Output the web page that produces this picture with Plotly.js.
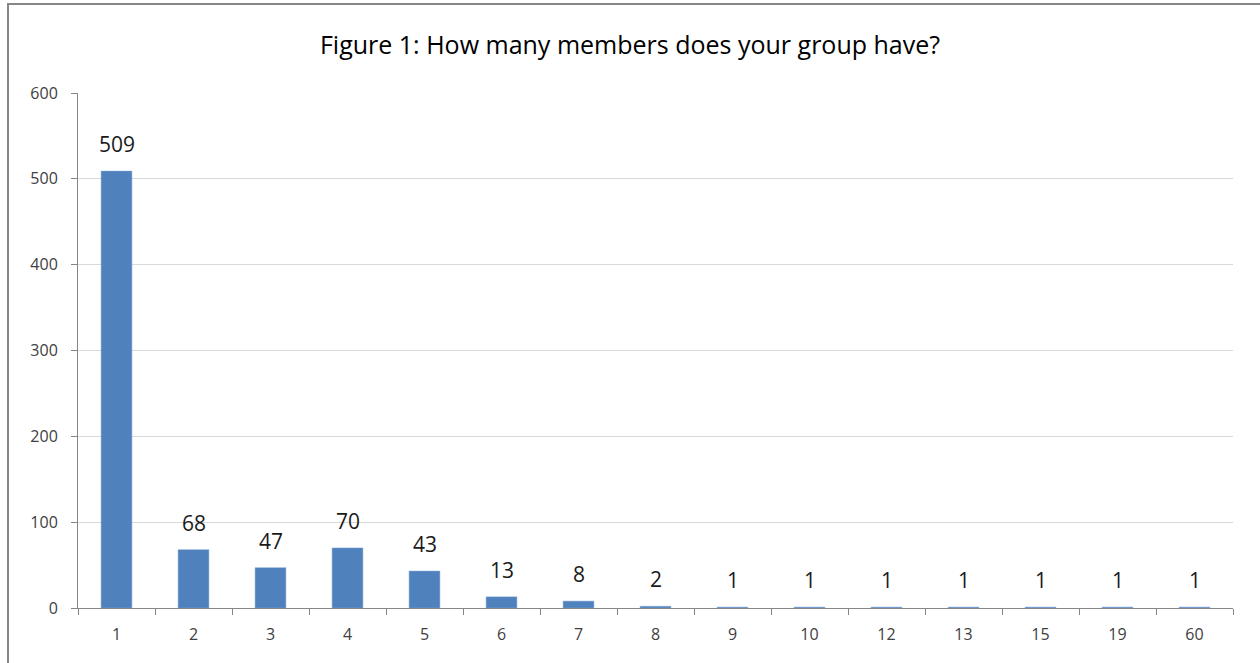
<!DOCTYPE html>
<html>
<head>
<meta charset="utf-8">
<script src="https://cdn.plot.ly/plotly-3.0.1.min.js"></script>
<style>
html,body{margin:0;padding:0;background:#fff;}
#chart{width:1260px;height:663px;}
#frame{position:absolute;left:7px;top:3px;width:1260px;height:670px;border-left:2px solid #878787;border-top:2px solid #878787;pointer-events:none;}
</style>
</head>
<body>
<div id="chart"></div>
<div id="frame"></div>
<script>
const categories = ["1","2","3","4","5","6","7","8","9","10","12","13","15","19","60"];
const counts = [509, 68, 47, 70, 43, 13, 8, 2, 1, 1, 1, 1, 1, 1, 1];
const yTicks = [0, 100, 200, 300, 400, 500, 600];

const FONT = '"Open Sans", "Noto Sans", sans-serif';

const trace = {
  type: 'bar',
  x: categories,
  y: counts,
  marker: {color: '#4f81bd', line: {color: '#7ea5d6', width: 0.5}},
  hoverinfo: 'x+y'
};

// data labels placed on the category index of each bar
const labels = categories.map((c, i) => ({
  x: i, y: counts[i], xref: 'x', yref: 'y',
  text: String(counts[i]), showarrow: false,
  xanchor: 'center', yanchor: 'bottom', yshift: 11,
  font: {family: FONT, size: 21, color: '#1a1a1a'}
}));

const layout = {
  width: 1260, height: 663,
  margin: {l: 78, r: 27, t: 93, b: 55},
  paper_bgcolor: '#ffffff', plot_bgcolor: '#ffffff',
  bargap: 0.6,
  showlegend: false,
  title: {text: 'Figure 1: How many members does your group have?', x: 0.5, xanchor: 'center', y: 0.932, yanchor: 'middle', font: {family: FONT, size: 25, color: '#000000'}},
  font: {family: FONT, color: '#404040'},
  annotations: labels,
  xaxis: {
    type: 'category', tickmode: 'array', tickvals: categories, ticktext: categories,
    range: [-0.5, categories.length - 0.5], autorange: false,
    tickson: 'boundaries', ticks: 'outside', ticklen: 6, tickcolor: '#868686',
    showline: true, linecolor: '#868686', linewidth: 1, showgrid: false,
    ticklabelstandoff: 12, tickangle: 0,
    tickfont: {family: FONT, size: 16, color: '#404040'}, fixedrange: true
  },
  yaxis: {
    range: [0, 600], tickmode: 'array', tickvals: yTicks, ticktext: yTicks.map(String),
    ticks: 'outside', ticklen: 6, tickcolor: '#868686',
    showline: true, linecolor: '#868686', linewidth: 1,
    showgrid: true, gridcolor: '#d9d9d9', gridwidth: 1, zeroline: false,
    ticklabelstandoff: 10,
    tickfont: {family: FONT, size: 16, color: '#404040'}, fixedrange: true
  }
};

Plotly.newPlot('chart', [trace], layout, {displayModeBar: false, staticPlot: true});
</script>
</body>
</html>
